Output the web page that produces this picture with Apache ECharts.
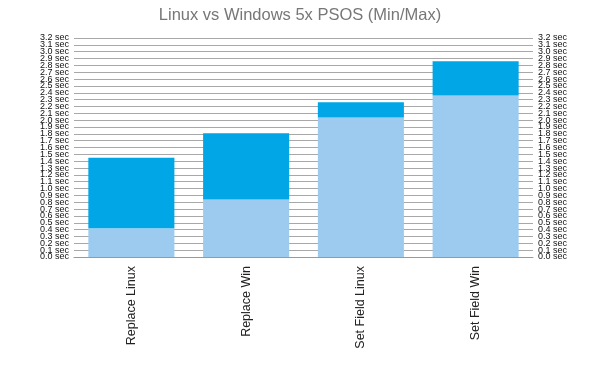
<!DOCTYPE html>
<html><head><meta charset="utf-8">
<script src="https://cdn.jsdelivr.net/npm/echarts@6/dist/echarts.min.js"></script>
<style>html,body{margin:0;padding:0;background:#fff}#c{width:600px;height:378px}</style>
</head><body><div id="c"></div>
<script>
const categories = ['Replace Linux', 'Replace Win', 'Set Field Linux', 'Set Field Win'];
const minValues = [0.42, 0.84, 2.04, 2.36];
const maxValues = [1.45, 1.81, 2.26, 2.86];
const rangeValues = maxValues.map((v, i) => +(v - minValues[i]).toFixed(2));
const axisMax = 3.2;
const axisStep = 0.1;

const chart = echarts.init(document.getElementById('c'));
const labelBase = {
  formatter: v => v.toFixed(1) + ' sec',
  fontFamily: 'Liberation Sans', fontSize: 9, color: '#111', margin: 5
};
const innerLabel = Object.assign({}, labelBase, { showMinLabel: false, showMaxLabel: false });
const endLabel = Object.assign({}, labelBase, { showMinLabel: true, showMaxLabel: true });
function yAx(pos, interval, label, grid) {
  return { type: 'value', min: 0, max: axisMax, interval: interval, position: pos,
    axisLine: { show: false }, axisTick: { show: false },
    splitLine: grid ? { lineStyle: { color: '#a8a8a8', width: 1 } } : { show: false },
    axisLabel: label };
}
chart.setOption({
  animation: false,
  title: {
    text: 'Linux vs Windows 5x PSOS (Min/Max)', left: 'center', top: 2,
    textStyle: { fontFamily: 'Liberation Sans', fontSize: 16.5, fontWeight: 'normal', color: '#777' }
  },
  grid: { left: 74, right: 67, top: 38, bottom: 121, containLabel: false },
  xAxis: {
    type: 'category', data: categories,
    axisLine: { show: true, lineStyle: { color: '#999' } },
    axisTick: { show: false },
    axisLabel: { rotate: 90, fontFamily: 'Liberation Sans', fontSize: 12.5, color: '#222', margin: 9 }
  },
  yAxis: [
    yAx('left', axisStep, innerLabel, true),
    yAx('right', axisStep, innerLabel, false),
    yAx('left', axisMax, endLabel, false),
    yAx('right', axisMax, endLabel, false)
  ],
  series: [
    { name: 'Min', type: 'bar', stack: 't', data: minValues, barWidth: '75%',
      itemStyle: { color: '#9dcbf0' } },
    { name: 'Max', type: 'bar', stack: 't', data: rangeValues, barWidth: '75%',
      itemStyle: { color: '#00a6e6' } }
  ]
});
</script></body></html>
